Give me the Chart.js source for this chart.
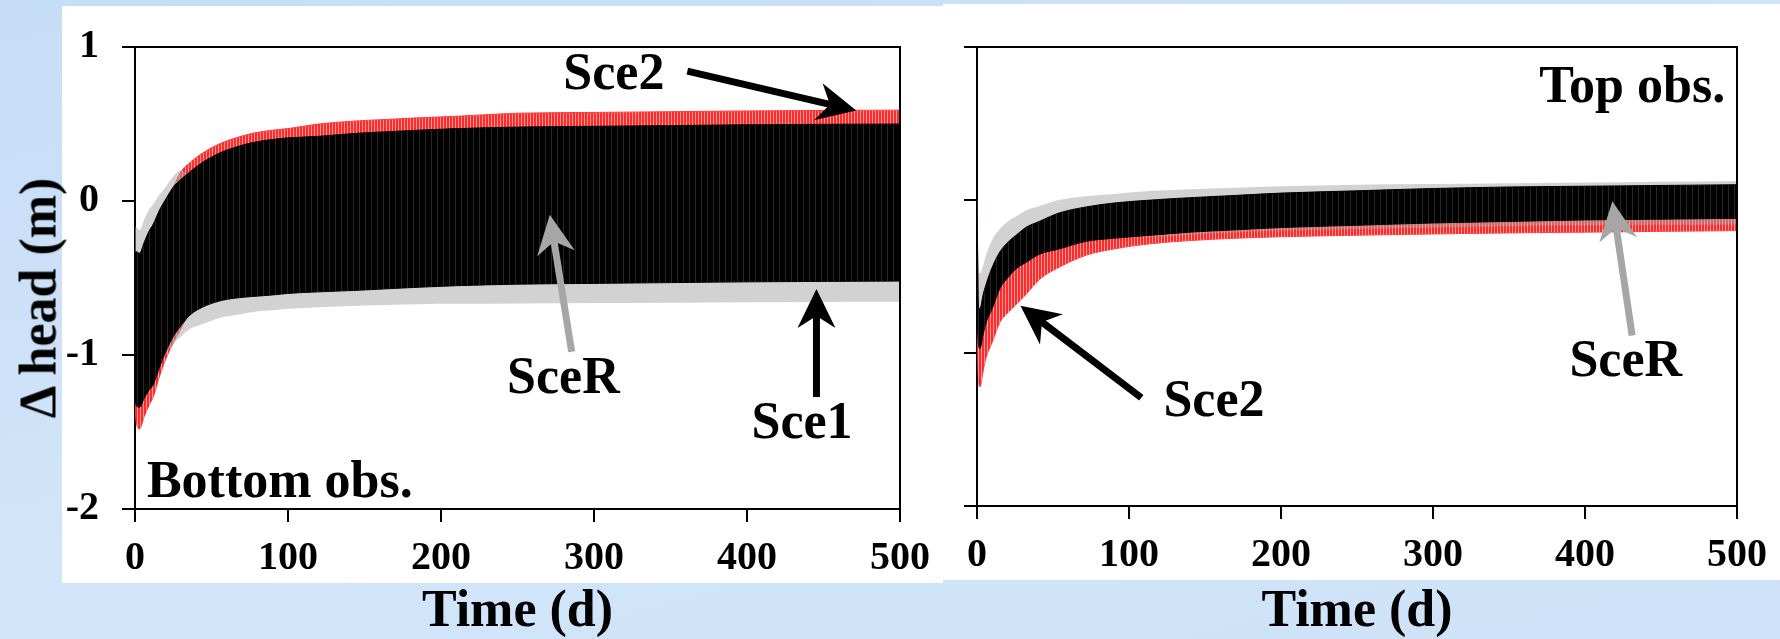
<!DOCTYPE html>
<html>
<head>
<meta charset="utf-8">
<script src="https://cdn.jsdelivr.net/npm/chart.js@4.4.0/dist/chart.umd.min.js"></script>
<style>
body {
    margin: 0;
    width: 1780px;
    height: 639px;
    overflow: hidden;
    position: relative;
    background: linear-gradient(165deg, #c6ddf6 0%, #d2e5fa 55%, #cde2f8 100%);
}
.painel { position: absolute; background: #fff; }
#painelL { left: 62px; top: 6px; width: 881px; height: 577px; }
#painelR { left: 943px; top: 4px; width: 837px; height: 576px; }
#graficoL { position: absolute; left: 0; top: 0; }
#graficoR { position: absolute; left: 943px; top: 0; }
.tituloY {
    position: absolute;
    left: 38px;
    top: 298px;
    transform: translate(-50%, -50%) rotate(-90deg);
    font: bold 52px "Liberation Serif", serif;
    white-space: nowrap;
    color: #000;
}
</style>
</head>
<body>
<div class="painel" id="painelL"></div>
<div class="painel" id="painelR"></div>
<canvas id="graficoL" width="943" height="639"></canvas>
<canvas id="graficoR" width="837" height="639"></canvas>
<div class="tituloY">Δ head (m)</div>

<script>
// envelopes (max/min of the daily oscillation)
const tempoL = [0, 1, 3, 6, 9, 12, 16, 20, 25, 30, 36, 44, 55, 66, 77, 90, 100, 120, 145, 165, 185, 210, 250, 300, 350, 400, 450, 500];
const sce1SupL = [-0.33, -0.33, -0.34, -0.27, -0.20, -0.15, -0.06, 0.01, 0.09, 0.14, 0.19, 0.25, 0.31, 0.35, 0.38, 0.40, 0.41, 0.42, 0.44, 0.45, 0.46, 0.47, 0.48, 0.485, 0.49, 0.495, 0.498, 0.50];
const sce1InfL = [-1.30, -1.33, -1.34, -1.28, -1.23, -1.19, -1.08, -0.98, -0.88, -0.81, -0.74, -0.69, -0.65, -0.63, -0.62, -0.61, -0.60, -0.59, -0.58, -0.57, -0.56, -0.55, -0.54, -0.535, -0.53, -0.525, -0.522, -0.52];
const sce2SupL = [-0.33, -0.33, -0.34, -0.27, -0.20, -0.15, -0.06, 0.01, 0.09, 0.19, 0.25, 0.31, 0.37, 0.41, 0.44, 0.46, 0.47, 0.50, 0.52, 0.53, 0.54, 0.55, 0.57, 0.575, 0.58, 0.585, 0.588, 0.59];
const sce2InfL = [-1.36, -1.45, -1.48, -1.40, -1.33, -1.27, -1.14, -1.03, -0.92, -0.83, -0.72, -0.67, -0.63, -0.61, -0.60, -0.59, -0.58, -0.57, -0.56, -0.55, -0.54, -0.53, -0.52, -0.515, -0.51, -0.505, -0.502, -0.50];
const sceRSupL = [-0.17, -0.17, -0.19, -0.12, -0.06, -0.02, 0.04, 0.09, 0.16, 0.20, 0.17, 0.23, 0.29, 0.33, 0.36, 0.38, 0.39, 0.40, 0.42, 0.43, 0.44, 0.45, 0.46, 0.465, 0.47, 0.475, 0.478, 0.48];
const sceRInfL = [-1.30, -1.33, -1.34, -1.28, -1.23, -1.19, -1.08, -1.00, -0.93, -0.88, -0.83, -0.80, -0.76, -0.74, -0.72, -0.71, -0.70, -0.69, -0.68, -0.675, -0.67, -0.668, -0.665, -0.662, -0.66, -0.658, -0.656, -0.655];

const tempoR = [0, 1, 2, 4, 6, 10, 15, 21, 27, 32, 41, 54, 72, 90, 115, 140, 170, 200, 250, 300, 350, 400, 450, 500];
const sce1SupR = [0.0, -0.70, -0.71, -0.62, -0.55, -0.44, -0.34, -0.27, -0.22, -0.18, -0.14, -0.085, -0.045, -0.02, 0.0, 0.015, 0.03, 0.045, 0.06, 0.075, 0.085, 0.09, 0.095, 0.10];
const sce1InfR = [-0.75, -0.95, -0.97, -0.88, -0.80, -0.71, -0.58, -0.50, -0.44, -0.41, -0.355, -0.32, -0.27, -0.25, -0.23, -0.21, -0.195, -0.18, -0.165, -0.15, -0.14, -0.13, -0.125, -0.12];
const sce2SupR = [0.0, -0.72, -0.73, -0.64, -0.57, -0.46, -0.36, -0.29, -0.24, -0.20, -0.16, -0.105, -0.065, -0.04, -0.02, -0.005, 0.01, 0.025, 0.04, 0.055, 0.065, 0.07, 0.075, 0.08];
const sce2InfR = [-0.75, -1.18, -1.22, -1.12, -1.03, -0.93, -0.80, -0.73, -0.67, -0.62, -0.52, -0.44, -0.36, -0.32, -0.285, -0.265, -0.25, -0.24, -0.23, -0.222, -0.215, -0.21, -0.205, -0.20];
const sceRSupR = [0.0, -0.44, -0.48, -0.43, -0.36, -0.26, -0.19, -0.135, -0.10, -0.07, -0.04, 0.0, 0.025, 0.04, 0.06, 0.07, 0.08, 0.09, 0.10, 0.105, 0.11, 0.115, 0.12, 0.125];
const sceRInfR = [-0.73, -0.93, -0.95, -0.86, -0.78, -0.69, -0.56, -0.48, -0.42, -0.39, -0.335, -0.30, -0.25, -0.235, -0.24, -0.225, -0.21, -0.20, -0.19, -0.18, -0.17, -0.165, -0.162, -0.16];

const ticksX = [0, 100, 200, 300, 400, 500];
const ticksY = [1, 0, -1, -2];

const fonte = 'Liberation Serif';

// vertical streaks, like the dense daily lines of the original
function listras(corFundo, corListra, periodo) {
    const c = document.createElement('canvas');
    c.width = periodo;
    c.height = 4;
    const g = c.getContext('2d');
    g.fillStyle = corFundo;
    g.fillRect(0, 0, periodo, 4);
    g.fillStyle = corListra;
    g.fillRect(periodo - 1, 0, 1, 4);
    return g.createPattern(c, 'repeat');
}

function pontos(tempo, valores) {
    return tempo.map((t, i) => ({ x: t, y: valores[i] }));
}

function faixa(tempo, sup, inf, cor, borda) {
    const base = {
        pointRadius: 0,
        borderWidth: 1,
        borderColor: borda,
        cubicInterpolationMode: 'monotone'
    };
    return [
        Object.assign({ data: pontos(tempo, sup), fill: '+1', backgroundColor: cor }, base),
        Object.assign({ data: pontos(tempo, inf), fill: false }, base)
    ];
}

function desenharSeta(ctx, x0, y0, x1, y1, cor) {
    const ang = Math.atan2(y1 - y0, x1 - x0);
    const len = Math.hypot(x1 - x0, y1 - y0);
    ctx.save();
    ctx.translate(x1, y1);
    ctx.rotate(ang);
    ctx.strokeStyle = cor;
    ctx.fillStyle = cor;
    ctx.lineWidth = 7;
    ctx.beginPath();
    ctx.moveTo(-len, 0);
    ctx.lineTo(-25, 0);
    ctx.stroke();
    ctx.beginPath();
    ctx.moveTo(0, 0);
    ctx.lineTo(-39, -19);
    ctx.lineTo(-27, 0);
    ctx.lineTo(-39, 19);
    ctx.closePath();
    ctx.fill();
    ctx.restore();
}

const moldura = {
    id: 'moldura',
    afterDatasetsDraw(chart) {
        const { ctx, chartArea: a } = chart;
        ctx.save();
        ctx.strokeStyle = '#000';
        ctx.lineWidth = 2;
        ctx.beginPath();
        ctx.moveTo(a.left, a.top);
        ctx.lineTo(a.right, a.top);
        ctx.lineTo(a.right, a.bottom);
        ctx.stroke();
        ctx.restore();
    }
};

const notas = {
    id: 'notas',
    afterDraw(chart, args, opts) {
        const { ctx, scales: { x, y } } = chart;
        ctx.save();
        (opts.setas || []).forEach(s => {
            desenharSeta(ctx, x.getPixelForValue(s.de[0]), y.getPixelForValue(s.de[1]),
                x.getPixelForValue(s.para[0]), y.getPixelForValue(s.para[1]), s.cor);
        });
        ctx.fillStyle = '#000';
        ctx.font = 'bold 52px "' + fonte + '"';
        ctx.textBaseline = 'alphabetic';
        (opts.textos || []).forEach(n => {
            ctx.textAlign = n.alinha || 'center';
            ctx.fillText(n.texto, x.getPixelForValue(n.t), y.getPixelForValue(n.v));
        });
        ctx.restore();
    }
};

function criarGrafico(id, tempo, series, config) {
    const datasets = [].concat(
        faixa(tempo, series.sce1Sup, series.sce1Inf, listras('#000000', '#262626', 6), '#000000'),
        faixa(tempo, series.sceRSup, series.sceRInf, 'rgba(165,165,165,0.5)', 'rgba(0,0,0,0)'),
        faixa(tempo, series.sce2Sup, series.sce2Inf, listras('#ff2a2a', '#ff9a9a', 3), '#ff3c3c')
    );
    const fonteTick = { family: fonte, size: 40, weight: 'bold' };
    return new Chart(document.getElementById(id), {
        type: 'line',
        data: { datasets: datasets },
        options: {
            responsive: false,
            animation: false,
            layout: { padding: config.padding },
            plugins: {
                legend: { display: false },
                tooltip: { enabled: false },
                notas: { textos: config.textos, setas: config.setas }
            },
            scales: {
                x: {
                    type: 'linear',
                    min: 0,
                    max: 500,
                    afterBuildTicks: s => { s.ticks = ticksX.map(v => ({ value: v })); },
                    ticks: { color: '#000', padding: 13, font: fonteTick, maxRotation: 0 },
                    grid: { drawOnChartArea: false, tickLength: 13, color: '#000', lineWidth: 2 },
                    border: { color: '#000', width: 2 },
                    title: {
                        display: true, text: 'Time (d)', color: '#000', padding: 0,
                        font: { family: fonte, size: 52, weight: 'bold', lineHeight: 1 }
                    },
                    afterFit: s => { s.height = config.alturaX; }
                },
                y: {
                    type: 'linear',
                    min: -2,
                    max: 1,
                    afterBuildTicks: s => { s.ticks = ticksY.map(v => ({ value: v })); },
                    ticks: {
                        color: '#000', padding: 23, font: fonteTick,
                        callback: v => config.rotulosY ? String(v) : ''
                    },
                    grid: { drawOnChartArea: false, tickLength: 13, color: '#000', lineWidth: 2 },
                    border: { color: '#000', width: 2 },
                    afterFit: s => { s.width = config.larguraY; }
                }
            }
        },
        plugins: [moldura, notas]
    });
}

criarGrafico('graficoL', tempoL, {
    sce1Sup: sce1SupL, sce1Inf: sce1InfL,
    sce2Sup: sce2SupL, sce2Inf: sce2InfL,
    sceRSup: sceRSupL, sceRInf: sceRInfL
}, {
    padding: { top: 30, right: 39, left: 0, bottom: 0 },
    alturaX: 130,
    larguraY: 135,
    rotulosY: true,
    textos: [
        { texto: 'Sce2', t: 313, v: 0.73 },
        { texto: 'SceR', t: 280, v: -1.248 },
        { texto: 'Sce1', t: 436, v: -1.536 },
        { texto: 'Bottom obs.', t: 7.8, v: -1.92, alinha: 'left' }
    ],
    setas: [
        { de: [361, 0.843], para: [471.4, 0.587], cor: '#000' },
        { de: [285.4, -0.979], para: [271.1, -0.09], cor: '#a6a6a6' },
        { de: [445.4, -1.273], para: [445.4, -0.572], cor: '#000' }
    ]
});

criarGrafico('graficoR', tempoR, {
    sce1Sup: sce1SupR, sce1Inf: sce1InfR,
    sce2Sup: sce2SupR, sce2Inf: sce2InfR,
    sceRSup: sceRSupR, sceRInf: sceRInfR
}, {
    padding: { top: 27, right: 35, left: 0, bottom: 0 },
    alturaX: 133,
    larguraY: 34,
    rotulosY: false,
    textos: [
        { texto: 'Top obs.', t: 492.2, v: 0.64, alinha: 'right' },
        { texto: 'Sce2', t: 155.9, v: -1.414 },
        { texto: 'SceR', t: 426.8, v: -1.148 }
    ],
    setas: [
        { de: [108.1, -1.292], para: [28.6, -0.691], cor: '#000' },
        { de: [431, -0.885], para: [418, -0.008], cor: '#a6a6a6' }
    ]
});
</script>
</body>
</html>
